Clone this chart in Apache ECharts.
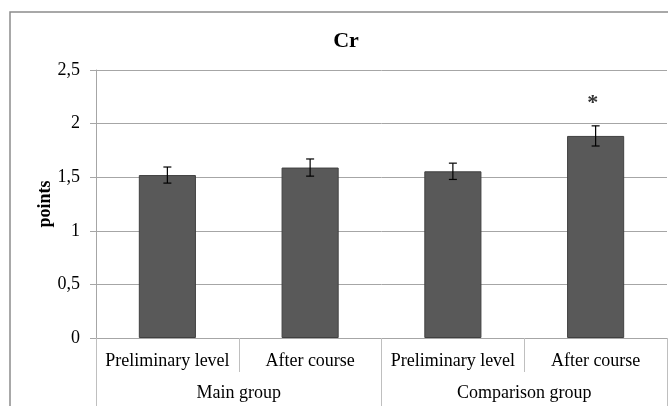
<!DOCTYPE html>
<html>
<head>
<meta charset="utf-8">
<script src="https://cdn.jsdelivr.net/npm/echarts@6/dist/echarts.min.js"></script>
<style>html,body{margin:0;padding:0;background:#fff}#c{width:668px;height:406px}</style>
</head>
<body>
<div id="c"></div>
<script>
const categories = ['Preliminary level', 'After course', 'Preliminary level', 'After course'];
const groups = ['Main group', 'Comparison group'];
const values = [1.52, 1.59, 1.555, 1.885];
const errors = [0.075, 0.08, 0.076, 0.094];
const marks = ['', '', '', '*'];
const yTicks = [0, 0.5, 1, 1.5, 2, 2.5];

const FONT = '"Liberation Serif", "Times New Roman", serif';
const chart = echarts.init(document.getElementById('c'));

const errData = values.map((v, i) => [i, v - errors[i], v + errors[i]]);

chart.setOption({
  animation: false,
  backgroundColor: '#fff',
  grid: { left: 96, right: 1, top: 70, bottom: 68, containLabel: false },
  graphic: [
    { type: 'rect', shape: { x: 10, y: 12, width: 700, height: 500 }, style: { fill: 'none', stroke: '#8c8c8c', lineWidth: 1.5 }, silent: true, z: -10 },
    { type: 'text', x: 346, y: 41, style: { text: 'Cr', font: 'bold 22px ' + FONT, fill: '#000', textAlign: 'center', textVerticalAlign: 'middle' } }
  ],
  xAxis: [
    {
      type: 'category', data: categories, position: 'bottom',
      axisLine: { show: true, lineStyle: { color: '#a6a6a6', width: 1 } },
      axisTick: { show: true, interval: 0, length: 34, lineStyle: { color: '#bfbfbf' } },
      axisLabel: { interval: 0, margin: 14, fontFamily: FONT, fontSize: 18, color: '#000' },
      splitLine: { show: false }
    },
    {
      type: 'category', data: groups, position: 'bottom', offset: 34,
      axisLine: { show: false },
      axisTick: { show: true, interval: 0, length: 40, lineStyle: { color: '#bfbfbf' } },
      axisLabel: { interval: 0, margin: 12, fontFamily: FONT, fontSize: 18, color: '#000' },
      splitLine: { show: false }
    }
  ],
  yAxis: {
    type: 'value', min: yTicks[0], max: yTicks[yTicks.length - 1], interval: 0.5,
    name: 'points', nameLocation: 'middle', nameGap: 42, nameRotate: 90, nameMoveOverlap: false,
    nameTextStyle: { fontFamily: FONT, fontSize: 18, fontWeight: 'bold', color: '#000' },
    axisLine: { show: true, lineStyle: { color: '#a6a6a6' } },
    axisTick: { show: true, length: 6, lineStyle: { color: '#a6a6a6' } },
    axisLabel: { margin: 16, fontFamily: FONT, fontSize: 18, color: '#000', formatter: v => String(v).replace('.', ',') },
    splitLine: { show: true, lineStyle: { color: '#a6a6a6', width: 1 } }
  },
  series: [
    {
      type: 'bar', data: values, barWidth: '40%', xAxisIndex: 0,
      itemStyle: { color: '#595959', borderColor: '#404040', borderWidth: 1 }
    },
    {
      type: 'custom', xAxisIndex: 0, data: errData, z: 10,
      renderItem: function (params, api) {
        const x = api.value(0);
        const lo = api.coord([x, api.value(1)]);
        const hi = api.coord([x, api.value(2)]);
        const cw = 4;
        const st = { stroke: '#000', lineWidth: 1.2 };
        const children = [
          { type: 'line', shape: { x1: lo[0], y1: lo[1], x2: hi[0], y2: hi[1] }, style: st },
          { type: 'line', shape: { x1: lo[0] - cw, y1: lo[1], x2: lo[0] + cw, y2: lo[1] }, style: st },
          { type: 'line', shape: { x1: hi[0] - cw, y1: hi[1], x2: hi[0] + cw, y2: hi[1] }, style: st }
        ];
        const m = marks[params.dataIndex];
        if (m) {
          children.push({ type: 'text', style: { text: m, x: hi[0] - 3, y: hi[1] - 12, textAlign: 'center', textVerticalAlign: 'bottom', font: 'bold 22px ' + FONT, fill: '#333' } });
        }
        return { type: 'group', children: children };
      }
    }
  ]
});
</script>
</body>
</html>
